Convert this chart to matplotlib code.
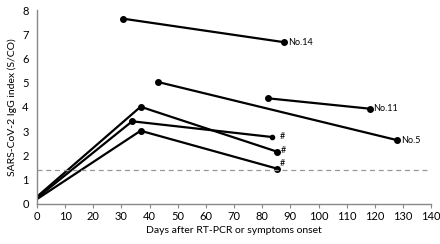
import matplotlib
matplotlib.use('Agg')
from matplotlib import pyplot as plt

# patient series (days, IgG index)
days_14 = [30.7, 87.9]
igg_14 = [7.64, 6.67]
days_5 = [43, 128]
igg_5 = [5.03, 2.63]
days_11 = [81.9, 118.2]
igg_11 = [4.36, 3.93]
days_a = [0, 36.8, 85.2]
igg_a = [0.3, 4.01, 2.16]
days_b = [0, 33.8, 83.6]
igg_b = [0.25, 3.41, 2.76]
days_c = [0, 36.8, 85.2]
igg_c = [0.2, 3.02, 1.46]
cutoff = 1.4

xticks = list(range(0, 141, 10))
yticks = list(range(0, 9))

plt.rcParams['font.family'] = ['Lato', 'DejaVu Sans']
fig = plt.figure(figsize=(4.4, 2.44), dpi=100)
ax = fig.add_axes([0.084, 0.164, 0.896, 0.795])

line_kw = dict(color='black', lw=1.6, solid_capstyle='round')
# lines that start at day 0: markers only at peak and last point
for xs, ys, ms_end in [(days_a, igg_a, 4), (days_b, igg_b, 3), (days_c, igg_c, 4)]:
    ax.plot(xs, ys, **line_kw)
    ax.plot(xs[1], ys[1], 'o', color='black', ms=4)
    ax.plot(xs[2], ys[2], 'o', color='black', ms=ms_end)
for xs, ys in [(days_14, igg_14), (days_5, igg_5), (days_11, igg_11)]:
    ax.plot(xs, ys, marker='o', ms=4, **line_kw)

ax.axhline(cutoff, color='#999999', lw=0.9, ls=(0, (4, 3)))

lab_kw = dict(fontsize=6.5, va='center', ha='left')
ax.text(days_14[1] + 1.2, igg_14[1], 'No.14', **lab_kw)
ax.text(days_11[1] + 1.2, igg_11[1], 'No.11', **lab_kw)
ax.text(days_5[1] + 1.2, igg_5[1], 'No.5', **lab_kw)
ax.text(days_b[2] + 2.5, igg_b[2] + 0.03, '#', **lab_kw)
ax.text(days_a[2] + 1.5, igg_a[2] + 0.05, '#', **lab_kw)
ax.text(days_c[2] + 1.0, igg_c[2] + 0.2, '#', **lab_kw)

ax.set_xlim(0, 140)
ax.set_ylim(0, 8)
ax.set_xticks(xticks)
ax.set_yticks(yticks)
ax.spines['top'].set_visible(False)
ax.spines['right'].set_visible(False)
for s in ['left', 'bottom']:
    ax.spines[s].set_color('#888888')
    ax.spines[s].set_linewidth(1.0)
ax.tick_params(axis='x', direction='out', length=3, color='#888888', labelsize=8, pad=2)
ax.tick_params(axis='y', length=0, labelsize=8, pad=6)
ax.set_xlabel('Days after RT-PCR or symptoms onset', fontsize=7.5, labelpad=3)
ax.set_ylabel('SARS-CoV-2 IgG index (S/CO)', fontsize=7.5, labelpad=4)

fig.savefig('out.png', dpi=100)
